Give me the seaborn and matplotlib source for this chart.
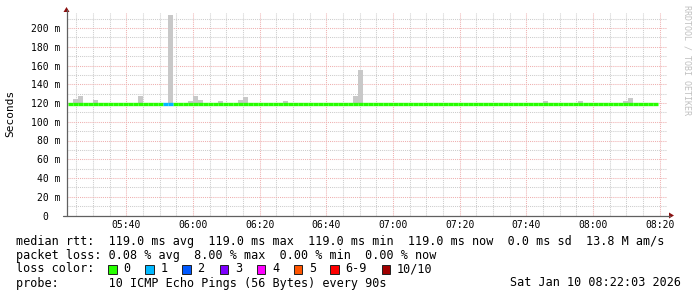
import numpy as np
import pandas as pd
import matplotlib
matplotlib.use("Agg")
import matplotlib.pyplot as plt
import seaborn as sns
from matplotlib.patches import Rectangle, Polygon
from matplotlib.lines import Line2D
from matplotlib.ticker import MultipleLocator, FuncFormatter

# ---------------- data ----------------
view_start_min = 5 * 60 + 22 + 3 / 60     # 05:22:03
view_end_min = 8 * 60 + 22 + 3 / 60       # 08:22:03
first_step_min = 5 * 60 + 22.5            # first 90 s step starts 05:22:30
step_min = 1.5                            # 90 s
n_steps = 118
median_rtt_ms = [119.0] * n_steps

smoke_steps = [1, 2, 5, 14, 20, 24, 25, 26, 30, 34, 35, 43, 57, 58, 95, 102, 111, 112]
smoke_top_ms = [124, 128, 123, 127, 214, 122, 128, 123, 122, 123, 126, 122, 128, 155, 122, 122, 122, 125]

loss_steps = [19, 20]
loss_pings = [1, 1]

legend_labels = ["0", "1", "2", "3", "4", "5", "6-9", "10/10"]
legend_colors = ["#26ff00", "#00b8ff", "#0059ff", "#7e00ff", "#ff00ff", "#ff5500", "#ff0000", "#a10000"]

y_ticks = [0, 20, 40, 60, 80, 100, 120, 140, 160, 180, 200]
y_tick_labels = ["0  ", "20 m", "40 m", "60 m", "80 m", "100 m", "120 m",
                 "140 m", "160 m", "180 m", "200 m"]

line1 = "median rtt:  119.0 ms avg  119.0 ms max  119.0 ms min  119.0 ms now  0.0 ms sd  13.8 M am/s"
line2 = "packet loss: 0.08 % avg  8.00 % max  0.00 % min  0.00 % now"
line4 = "probe:       10 ICMP Echo Pings (56 Bytes) every 90s"
date_text = "Sat Jan 10 08:22:03 2026"

# ---------------- style ----------------
sns.set_theme(style="white")
plt.rcParams["font.family"] = ["DejaVu Sans Mono", "DejaVu Sans"]

W, H = 697, 297
fig = plt.figure(figsize=(W / 100, H / 100), dpi=100)
fig.patch.set_facecolor("white")


def fx(x):
    return x / W


def fy(y):
    return 1 - y / H


ax_left, ax_right, ax_top, ax_bottom = 66.5, 666.5, 13.0, 215.5
ax = fig.add_axes([fx(ax_left), fy(ax_bottom), (ax_right - ax_left) / W, (ax_bottom - ax_top) / H])
ax.set_facecolor("white")
ax.set_xlim(view_start_min, view_end_min)
ax.set_ylim(0, 216)

# smoke
starts = [first_step_min + s * step_min for s in smoke_steps]
heights = [t - 119.0 for t in smoke_top_ms]
ax.bar(starts, heights, bottom=119.0, width=step_min, align="edge",
       color="#c8c8c8", linewidth=0, zorder=2)

# median line coloured by loss
loss_map = dict(zip(loss_steps, loss_pings))
rows = []
for i, v in enumerate(median_rtt_ms):
    t0 = first_step_min + i * step_min
    lab = str(loss_map.get(i, 0))
    rows.append({"t": t0, "rtt": v, "loss": lab, "step": i})
    rows.append({"t": t0 + step_min, "rtt": v, "loss": lab, "step": i})
df = pd.DataFrame(rows)
palette = {"0": legend_colors[0], "1": legend_colors[1]}
sns.lineplot(data=df, x="t", y="rtt", hue="loss", units="step", estimator=None,
             palette=palette, linewidth=2.4, legend=False, ax=ax,
             solid_capstyle="butt", zorder=3)

# grid
ax.xaxis.set_major_locator(MultipleLocator(20))
ax.xaxis.set_minor_locator(MultipleLocator(5))
ax.xaxis.set_major_formatter(FuncFormatter(lambda v, p: f"{int(v // 60):02d}:{int(round(v % 60)):02d}"))
ax.set_yticks(y_ticks)
ax.set_yticklabels(y_tick_labels)
ax.yaxis.set_minor_locator(MultipleLocator(10))
ax.set_axisbelow(True)
ax.grid(which="minor", color="#cccccc", linestyle=(0, (1, 1)), linewidth=0.75)
ax.grid(which="major", color="#efb0b0", linestyle=(0, (1, 1)), linewidth=0.75)
for sp in ax.spines.values():
    sp.set_visible(False)
ax.set_xlabel("")
ax.set_ylabel("")
ax.tick_params(axis="y", which="major", direction="out", length=3, width=0.75,
               color="#707070", pad=1.5, labelsize=7)
ax.tick_params(axis="y", which="minor", length=0)
ax.tick_params(axis="x", which="major", direction="out", length=2, width=0.75,
               color="#707070", pad=1.5, labelsize=7)
ax.tick_params(axis="x", which="minor", direction="out", length=0)
ax.tick_params(labelcolor="black")

# axis lines with arrows
axis_col = "#606060"
arrow_col = "#8b1010"
fig.add_artist(Line2D([fx(ax_left), fx(ax_left)], [fy(ax_bottom), fy(10)], color=axis_col, lw=0.9))
fig.add_artist(Line2D([fx(63), fx(670)], [fy(ax_bottom), fy(ax_bottom)], color=axis_col, lw=0.9))
fig.add_artist(Polygon([(fx(63.5), fy(12)), (fx(69.5), fy(12)), (fx(66.5), fy(7))],
                       closed=True, color=arrow_col, lw=0))
fig.add_artist(Polygon([(fx(669), fy(212.5)), (fx(669), fy(218.5)), (fx(674), fy(215.5))],
                       closed=True, color=arrow_col, lw=0))

# y label
fig.text(fx(10), fy(113), "Seconds", rotation=90, ha="center", va="center", fontsize=8, color="black")

# watermark
fig.text(fx(687), fy(60), "RRDTOOL / TOBI OETIKER", rotation=-90, ha="center", va="center",
         fontsize=6, color="#c0c0c0")

# footer
fs = 8.5
fig.text(fx(16), fy(241), line1, ha="left", va="center", fontsize=fs, color="black")
fig.text(fx(16), fy(255), line2, ha="left", va="center", fontsize=fs, color="black")
fig.text(fx(16), fy(269), "loss color:", ha="left", va="center", fontsize=fs, color="black")
box_x = [108, 145, 182, 219.5, 256.5, 293.5, 330, 381.5]
for bx, lab, col in zip(box_x, legend_labels, legend_colors):
    fig.add_artist(Rectangle((fx(bx), fy(273.5)), 8.5 / W, 8.5 / H, facecolor=col,
                             edgecolor="#202020", lw=0.7, transform=fig.transFigure))
    fig.text(fx(bx + 15.5), fy(269), lab, ha="left", va="center", fontsize=fs, color="black")
fig.text(fx(16), fy(283), line4, ha="left", va="center", fontsize=fs, color="black")
fig.text(fx(680.5), fy(283), date_text, ha="right", va="center", fontsize=fs, color="black")

fig.savefig("out.png", dpi=100, facecolor="white")
